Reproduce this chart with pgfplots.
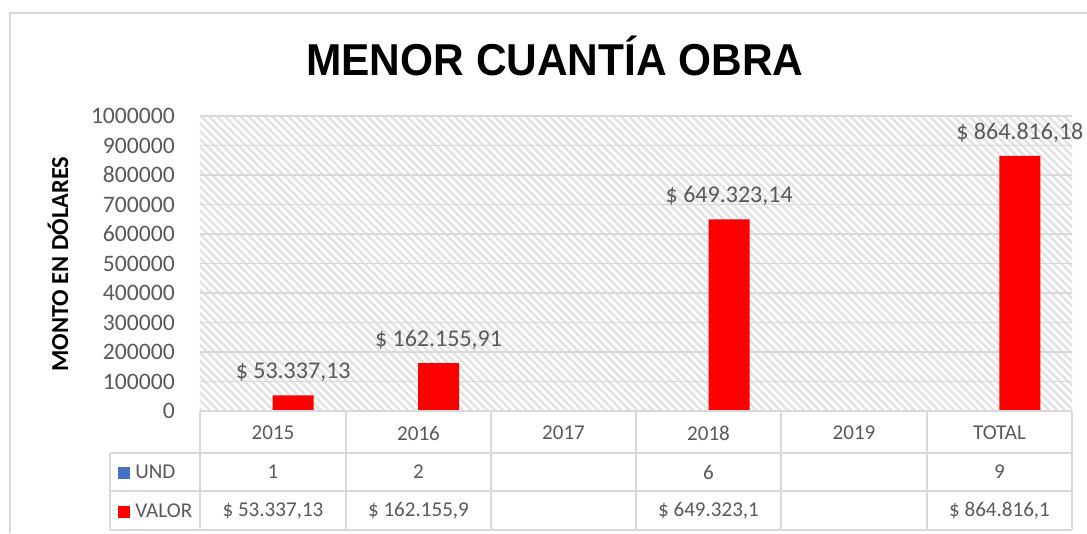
\documentclass[border=0pt]{standalone}
\usepackage{pgfplots}
\pgfplotsset{compat=1.18}
\usepackage{pgfplotstable}
\usepackage{fontspec}
\setmainfont{Carlito}
\newfontfamily\titlefont{Liberation Sans}
\usetikzlibrary{patterns.meta}
\definecolor{txt}{HTML}{595959}
\definecolor{gridc}{HTML}{D9D9D9}
\definecolor{hatch}{HTML}{E2E2E2}
\definecolor{und}{HTML}{4472C4}
\definecolor{valor}{HTML}{FF0000}

\pgfplotstableread[col sep=semicolon]{
x;y;label
0;53337.13;\$ 53.337,13
1;162155.91;\$ 162.155,91
3;649323.14;\$ 649.323,14
5;864816.18;\$ 864.816,18
}\valordata

\pgfplotstableread[col sep=semicolon]{
x;y
0;1
1;2
3;6
5;9
}\unddata

\begin{document}
\begin{tikzpicture}
\begin{axis}[
  name=ax,
  at={(0,0)}, anchor=south west,
  scale only axis,
  width=654pt, height=221.25pt,
  xmin=-0.5, xmax=5.5,
  ymin=0, ymax=1000000,
  ytick={0,100000,...,1000000},
  scaled y ticks=false,
  xtick=\empty,
  axis line style={draw=none},
  major tick length=0pt,
  ymajorgrids,
  grid style={gridc, line width=1.1pt},
  axis background/.style={pattern={Lines[angle=-45,distance=4.2pt,line width=1.9pt]}, pattern color=hatch},
  /pgf/number format/assume math mode=true,
  /pgf/number format/fixed,
  /pgf/number format/precision=0,
  /pgf/number format/1000 sep={},
  yticklabel style={anchor=east, inner sep=0pt, xshift=-18.75pt, font=\fontsize{17.7}{20}\selectfont, text=txt},
  ybar,
  bar width=30.75pt,
  clip=false,
]
\addplot[ybar, bar shift=-15.375pt, fill=und, draw=none] table[x=x, y=y] {\unddata};
\addplot[ybar, bar shift=15.375pt, fill=valor, draw=none,
  nodes near coords, point meta=explicit symbolic,
  nodes near coords style={anchor=base, yshift=12.5pt, font=\fontsize{18}{20}\selectfont, text=txt}]
  table[x=x, y=y, meta=label] {\valordata};
\end{axis}
\begin{scope}[x=0.75pt, y=-0.75pt, shift={(-150pt,308.25pt)}]
  % outer chart border
  \draw[gridc, line width=1.5pt] (10,533) -- (10,13) -- (1087,13);
  % title
  \node[anchor=base, inner sep=0pt, font=\titlefont\bfseries\fontsize{33.5}{36}\selectfont] at (555,76) {\scalebox{0.95}[1]{MENOR CUANTÍA OBRA}};
  % y label
  \node[rotate=90, inner sep=0pt, font=\bfseries\fontsize{18.3}{20}\selectfont] at (58,264) {MONTO EN DÓLARES};
  % data table
  \begin{scope}[gridc, line width=1.1pt]
    \draw (200,411) -- (1072,411);
    \draw (110,453) -- (1072,453);
    \draw (110,491) -- (1072,491);
    \draw (110,530) -- (1072,530);
    \draw (110,453) -- (110,530);
    \foreach \xx in {200,346,491,636,781,927,1072} {\draw (\xx,411) -- (\xx,530);}
  \end{scope}
  \begin{scope}[every node/.style={font=\fontsize{15.8}{18}\selectfont, text=txt, inner sep=0pt}]
    \node at (273,433) {2015};
    \node at (418.5,433) {2016};
    \node at (563.5,433) {2017};
    \node at (708.5,433) {2018};
    \node at (854,433) {2019};
    \node at (999.5,433) {TOTAL};
    \node at (273,472) {1};
    \node at (418.5,472) {2};
    \node at (708.5,472) {6};
    \node at (999.5,472) {9};
    \node at (273,511) {\$ 53.337,13};
    \node at (418.5,511) {\$ 162.155,9};
    \node at (708.5,511) {\$ 649.323,1};
    \node at (999.5,511) {\$ 864.816,1};
    \node[anchor=west] at (118,472) {\textcolor{und}{\rule{9pt}{9pt}}\hspace{3.75pt}UND};
    \node[anchor=west] at (118,511) {\textcolor{valor}{\rule{9pt}{9pt}}\hspace{3.75pt}VALOR};
  \end{scope}
  \pgfresetboundingbox
  \path[use as bounding box] (0,0) rectangle (1087,533);
\end{scope}
\end{tikzpicture}
\end{document}
